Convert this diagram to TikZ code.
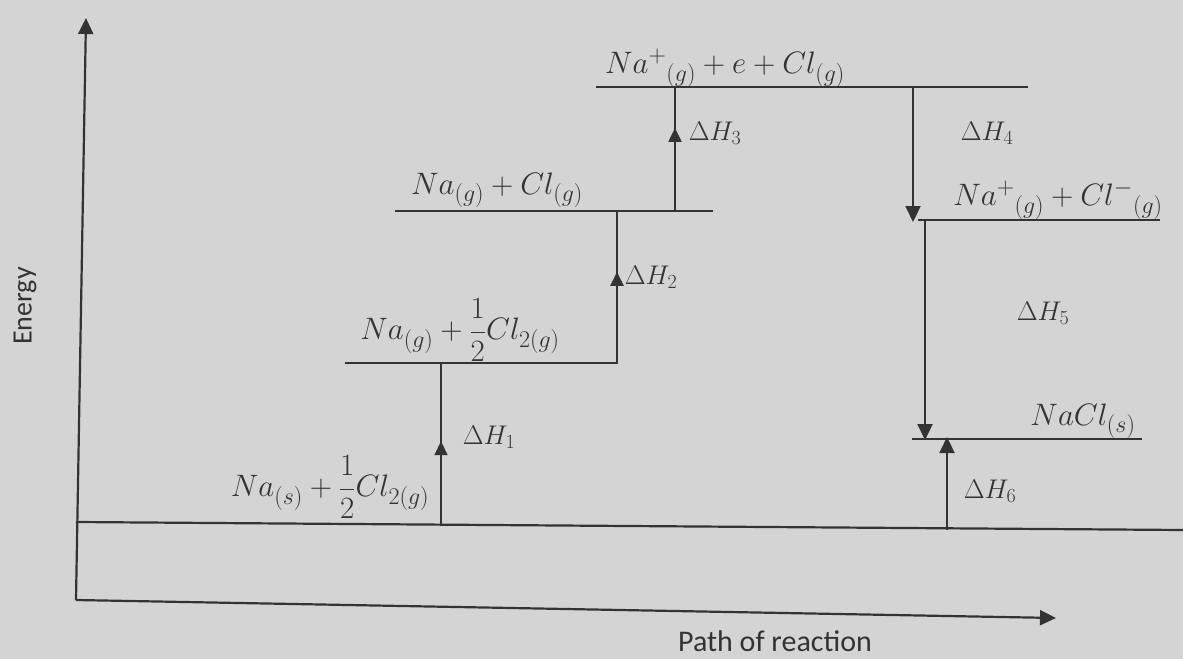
\RequirePackage{fix-cm}
\documentclass[tikz,border=0pt]{standalone}
\usepackage{fontspec}
\setsansfont{Carlito}
\usetikzlibrary{arrows.meta,decorations.markings}
\definecolor{ink}{HTML}{333333}
\definecolor{paper}{HTML}{D4D4D4}
\DeclareMathSizes{27}{27}{20}{15}
\DeclareMathSizes{31}{31}{24}{18}
\newcommand{\halffrac}{{\displaystyle\frac{1}{2}}}
\begin{document}
\begin{tikzpicture}[x=1pt,y=-1pt,
  lvl/.style={draw=ink,line width=2.2pt},
  endtip/.style={draw=ink,line width=2.2pt,-{Triangle[length=16pt,width=15pt]}},
  midtip/.style={draw=ink,line width=2.2pt,postaction=decorate,
    decoration={markings,mark=at position #1 with {\arrow[ink]{Triangle[length=14pt,width=13pt]}}}},
  eq/.style={text=ink,font=\fontsize{31}{36}\selectfont,inner sep=0pt},
  dh/.style={text=ink,font=\fontsize{27}{32}\selectfont,inner sep=0pt},
  axlab/.style={text=ink,font=\sffamily\fontsize{30}{34}\selectfont,inner sep=0pt}]
\fill[paper] (0,0) rectangle (1183,659);
\useasboundingbox (0,0) rectangle (1183,659);
% axes
\coordinate (O) at (76,600);
\coordinate (Ytop) at (86,18);
\coordinate (Xend) at (1056,618);
\draw[endtip] (O) -- (Ytop);
\draw[endtip] (O) -- (Xend);
% levels
\coordinate (b0) at (76,522); \coordinate (b1) at (1183,530);
\coordinate (l1a) at (345,363); \coordinate (l1b) at (618,363);
\coordinate (l2a) at (395,211); \coordinate (l2b) at (713,211);
\coordinate (l3a) at (596,87);  \coordinate (l3b) at (1028,87);
\coordinate (l4a) at (918,220); \coordinate (l4b) at (1160,220);
\coordinate (l5a) at (912,439); \coordinate (l5b) at (1142,439);
\draw[lvl] (b0) -- (b1);
\draw[lvl] (l1a) -- (l1b);
\draw[lvl] (l2a) -- (l2b);
\draw[lvl] (l3a) -- (l3b);
\draw[lvl] (l4a) -- (l4b);
\draw[lvl] (l5a) -- (l5b);
% transition points
\coordinate (h1a) at (441,526); \coordinate (h1b) at (441,363);
\coordinate (h2a) at (617,363); \coordinate (h2b) at (617,211);
\coordinate (h3a) at (675,211); \coordinate (h3b) at (675,87);
\coordinate (h4a) at (913,87);  \coordinate (h4b) at (913,222);
\coordinate (h5a) at (925,220); \coordinate (h5b) at (925,440);
\coordinate (h6a) at (947,530); \coordinate (h6b) at (947,437);
\draw[midtip=0.52] (h1a) -- (h1b);
\draw[midtip=0.6] (h2a) -- (h2b);
\draw[midtip=0.67] (h3a) -- (h3b);
\draw[endtip] (h4a) -- (h4b);
\draw[endtip] (h5a) -- (h5b);
\draw[endtip] (h6a) -- (h6b);
% labels
\node[eq] (s0) at (330,487) {$Na_{(s)}+\halffrac Cl_{2(g)}$};
\node[eq] (s1) at (460,330) {$Na_{(g)}+\halffrac Cl_{2(g)}$};
\node[eq] (s2) at (497,190) {$Na_{(g)}+Cl_{(g)}$};
\node[eq] (s3) at (725,68) {$Na^{+}{}_{(g)}+e+Cl_{(g)}$};
\node[eq] (s4) at (1058,200) {$Na^{+}{}_{(g)}+Cl^{-}{}_{(g)}$};
\node[eq] (s5) at (1083,421) {$NaCl_{(s)}$};
\node[dh] (d1) at (489,437) {$\Delta H_1$};
\node[dh] (d2) at (651,277) {$\Delta H_2$};
\node[dh] (d3) at (715,133) {$\Delta H_3$};
\node[dh] (d4) at (987,133) {$\Delta H_4$};
\node[dh] (d5) at (1043,313) {$\Delta H_5$};
\node[dh] (d6) at (990,491) {$\Delta H_6$};
\node[axlab,rotate=90,font=\sffamily\fontsize{28}{32}\selectfont] (ylab) at (25,306) {Energy};
\node[axlab] (xlab) at (775,641) {Path of reaction};
\end{tikzpicture}
\end{document}
